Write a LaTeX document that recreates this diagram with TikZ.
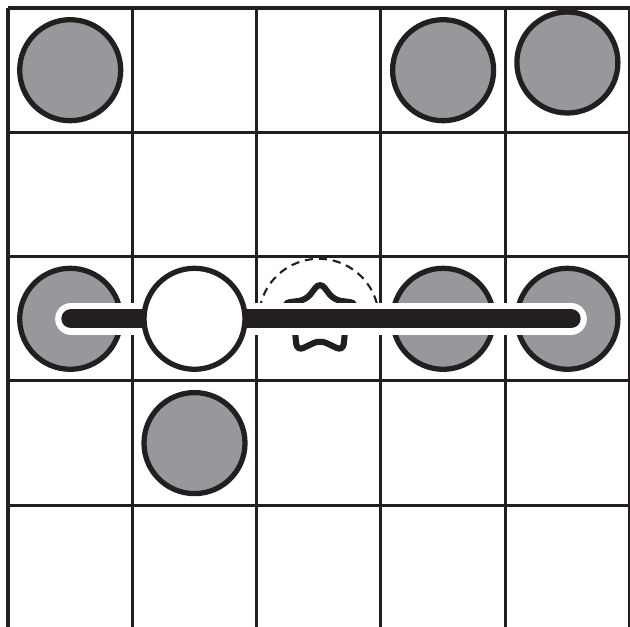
\documentclass[tikz,border=0pt]{standalone}
\usepackage{tikz}
\definecolor{stonegray}{RGB}{151,152,156}
\definecolor{inkblack}{RGB}{35,31,32}
\begin{document}
\begin{tikzpicture}[x=0.03cm, y=-0.03cm,
    gridline/.style={inkblack, line width=2.6pt},
    stone/.style={draw=inkblack, line width=4.5pt, fill=stonegray},
    starline/.style={inkblack, line width=5.2pt, rounded corners=6pt},
    ghost/.style={inkblack, line width=1.8pt, dash pattern=on 7pt off 5pt}]
\useasboundingbox (0,0) rectangle (630,627);
% board
\foreach \i in {0,...,5}
    \draw[gridline] (8+124.3*\i,8) -- (8+124.3*\i,627);
\foreach \j in {0,...,4}
    \draw[gridline] (8,8+124.3*\j) -- (629.5,8+124.3*\j);
% grey stones
\foreach \x/\y in {70.2/70.2, 443.1/70.2, 567.4/62.5, 70.2/318.8, 443.1/318.8, 567.4/318.8, 194.5/443.1}
    \draw[stone] (\x,\y) circle (50.5);
% star and dashed outline
\draw[starline] (320,282) -- (334,300) -- (357,303) -- (346,322) -- (343,351)
    -- (320,340) -- (297,351) -- (294,322) -- (283,303) -- (306,300) -- cycle;
\begin{scope}[shift={(318.8,318.8)}, yscale=-1]
    \draw[ghost] (15:60) arc (15:165:60);
\end{scope}
% line
\coordinate (barL) at (71,318.8);
\coordinate (barR) at (571,318.8);
\draw[white, line width=27pt, line cap=round] (barL) -- (barR);
\draw[inkblack, line width=16.5pt, line cap=round] (barL) -- (barR);
% white stone
\draw[stone, fill=white] (194.5,318.8) circle (50.5);
\end{tikzpicture}
\end{document}
